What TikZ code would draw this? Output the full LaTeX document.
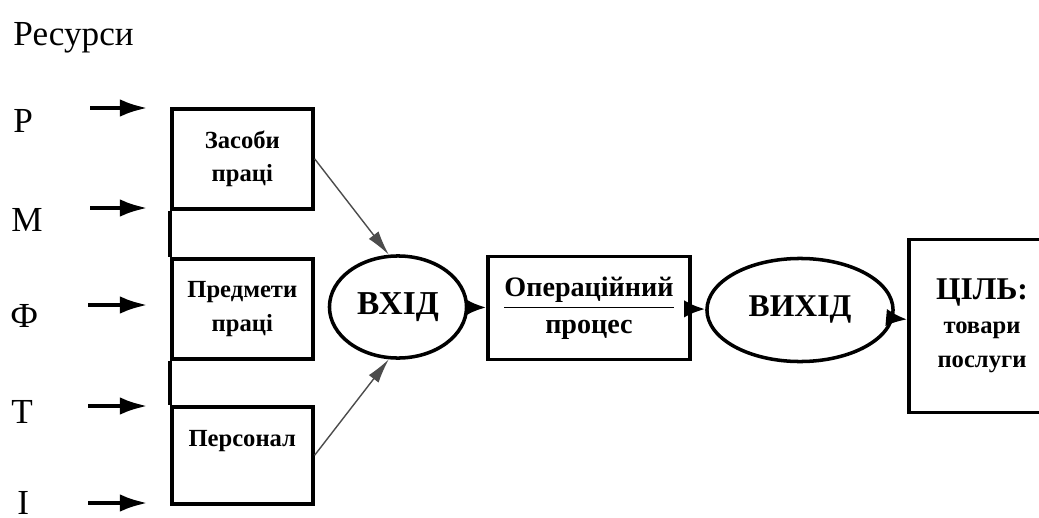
\documentclass[tikz,border=0pt]{standalone}
\usepackage{fontspec}
\setmainfont{Liberation Serif}
\usepackage{tikz}
\usetikzlibrary{calc, positioning, shapes.geometric, arrows.meta}

\begin{document}
\begin{tikzpicture}[x=0.01cm,y=-0.01cm,-,thick,
                    res node/.style={anchor=west,inner sep=0pt,font=\fontsize{10}{12}\selectfont},
                    box node/.style={draw,line width=1pt,minimum width=1.41cm,minimum height=1cm,align=center,anchor=north west,font=\bfseries\fontsize{7}{9.6}\selectfont},
                    oval node/.style={ellipse,draw,line width=1pt,inner sep=0pt,font=\bfseries\fontsize{9.5}{11}\selectfont},
                    res arrow/.style={-{Latex[length=8pt,width=5pt]},line width=1.3pt},
                    thin arrow/.style={-{Latex[length=7pt,width=3.5pt]},line width=0.4pt,black!70},
                    flow arrow/.style={-{Latex[length=6pt,width=5pt]},line width=1pt}]

  \useasboundingbox (0,0) rectangle (1039,518);

  % resources
  \node[res node] (title) at (12,38) {Ресурси};
  \node[res node] (p) at (12,121) {P};
  \node[res node] (m) at (10,220) {M};
  \node[res node] (f) at (9,316) {Ф};
  \node[res node] (t) at (10,412) {T};
  \node[res node] (i) at (16,503) {I};

  \coordinate (p-s) at (90,108);  \coordinate (p-e) at (148,108);
  \coordinate (m-s) at (90,208);  \coordinate (m-e) at (148,208);
  \coordinate (f-s) at (88,305);  \coordinate (f-e) at (148,305);
  \coordinate (t-s) at (88,406);  \coordinate (t-e) at (148,406);
  \coordinate (i-s) at (88,503);  \coordinate (i-e) at (148,503);

  \path[res arrow]
    (p-s) edge (p-e)
    (m-s) edge (m-e)
    (f-s) edge (f-e)
    (t-s) edge (t-e)
    (i-s) edge (i-e);

  % boxes
  \node[box node] (zasoby) at (170,107) {Засоби\\праці};
  \node[box node] (predmety) at (170,257) {Предмети\\праці};
  \node[box node,minimum height=0.97cm] (personal) at (170,405) {Персонал\\~};

  \draw[line width=1pt] (zasoby.south west) -- (predmety.north west)
                        (predmety.south west) -- (personal.north west);

  \node[oval node,minimum width=1.37cm,minimum height=1.02cm] (vhid) at (398,307) {ВХІД};
  \node[box node,anchor=center,minimum width=2.02cm,minimum height=1.03cm,font=\bfseries\fontsize{8}{10.5}\selectfont] (oper) at (589,308) {\underline{Операційний}\\процес};
  \node[oval node,minimum width=1.86cm,minimum height=1.03cm,font=\bfseries\fontsize{9}{11}\selectfont] (vyhid) at (800,310) {ВИХІД};
  \node[box node,anchor=center,minimum width=1.46cm,minimum height=1.73cm] (cil) at (982,326) {{\fontsize{9}{11}\selectfont ЦІЛЬ:}\\товари\\послуги};

  \path[thin arrow]
    (zasoby.east) edge (vhid.100)
    (personal.east) edge (vhid.260);

  \path[flow arrow]
    (vhid) edge (oper)
    (oper) edge (vyhid)
    (vyhid) edge (cil);

\end{tikzpicture}
\end{document}
